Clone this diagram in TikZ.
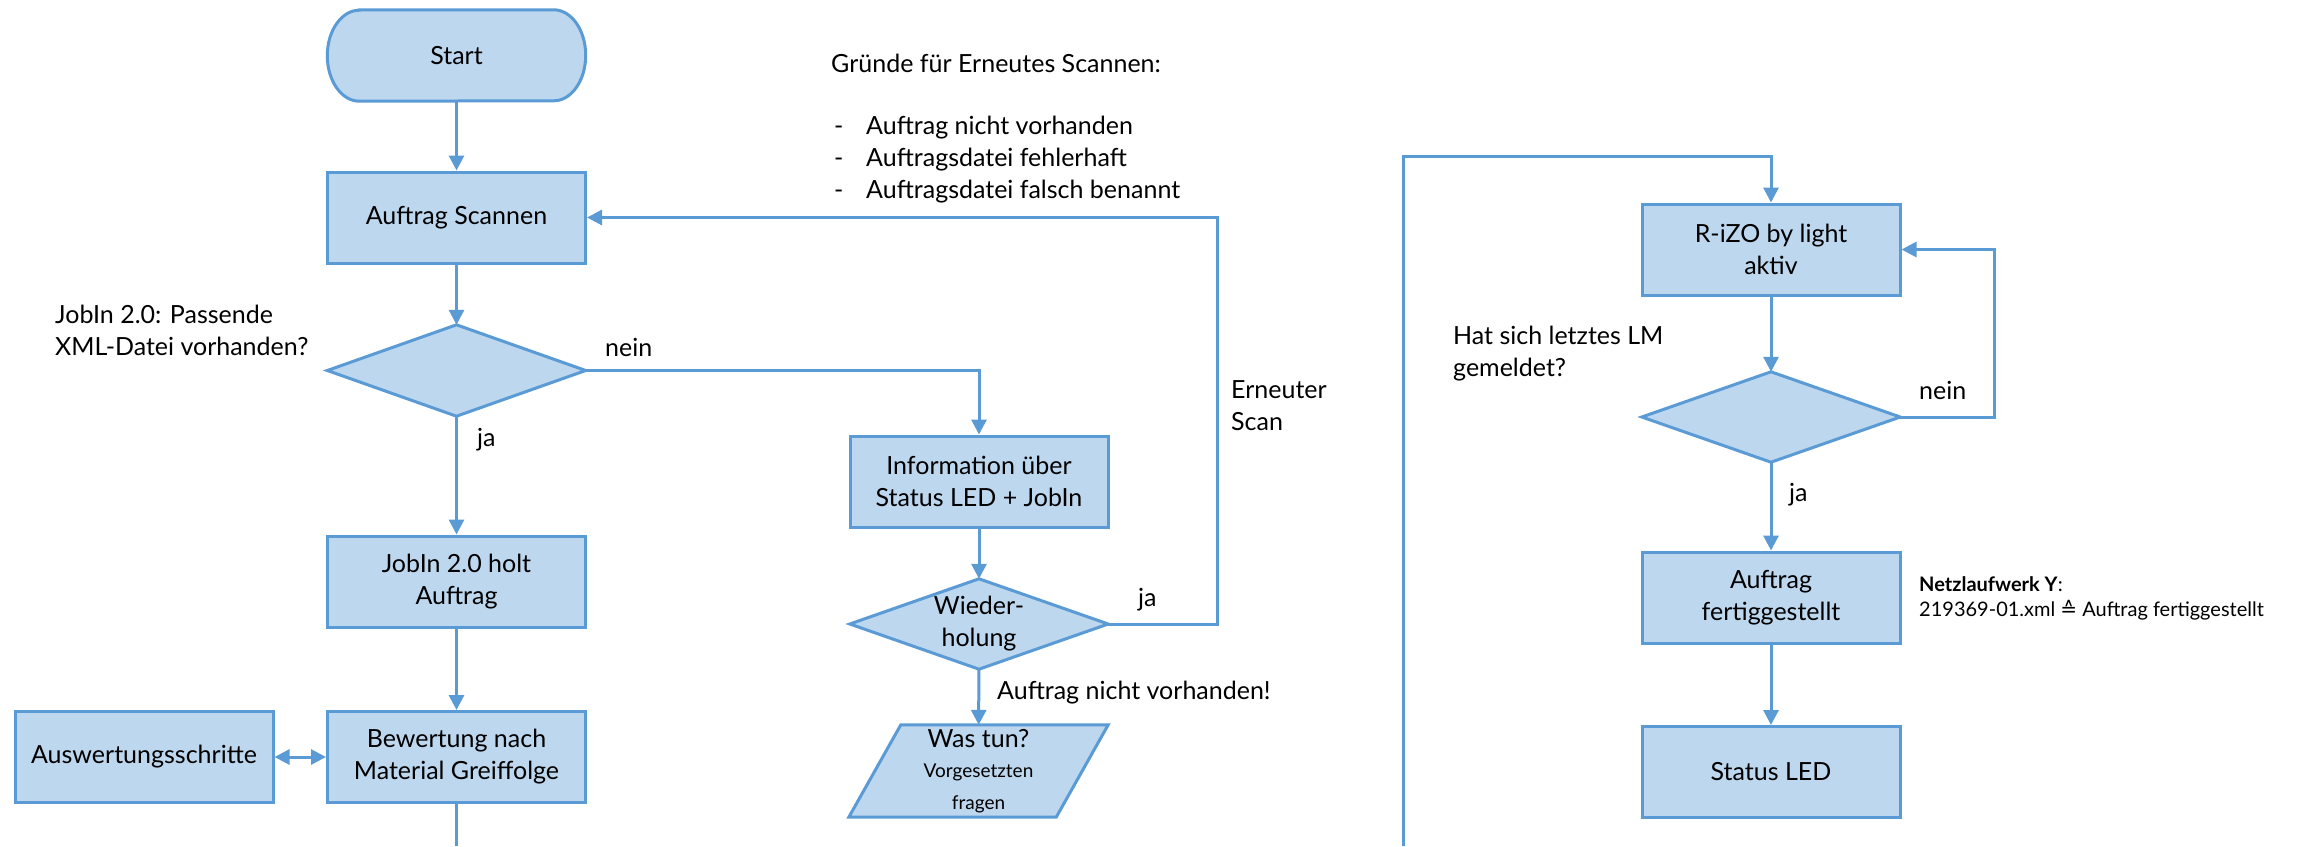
\documentclass[tikz,border=0pt]{standalone}
\usepackage{fontspec}
\setmainfont{Lato}
\newfontfamily\dejavu{DejaVu Sans}
\usetikzlibrary{arrows.meta,backgrounds,calc}
\definecolor{lineblue}{HTML}{5B9BD5}
\definecolor{fillblue}{HTML}{BDD7EE}
\newcommand{\smallfs}{\fontsize{19}{27}\selectfont}
\begin{document}
\begin{tikzpicture}[x=1pt,y=-1pt,
  every node/.style={font=\fontsize{25}{32}\selectfont, text=black},
  conn/.style={draw=lineblue, line width=3pt, -{Triangle[length=15pt,width=15pt]}},
  plain/.style={draw=lineblue, line width=3pt},
  box/.style={rectangle, draw=lineblue, fill=fillblue, line width=3pt, minimum width=258pt, minimum height=91pt, inner sep=0pt, align=center},
  ghost/.style={rectangle, minimum width=258pt, minimum height=91pt, inner sep=0pt, align=center},
  shp/.style={draw=lineblue, fill=fillblue, line width=3pt, line join=miter},
  lbl/.style={anchor=west, inner sep=0pt, align=left}
]
\useasboundingbox (0,0) rectangle (2297,846);

% nodes
\node[ghost] (start) at (456.5,55.5) {Start};
\node[box] (scan) at (456.5,217.5) {Auftrag Scannen};
\node[ghost] (d1) at (456.5,370.5) {};
\node[box] (jobin) at (456.5,581.5) {JobIn 2.0 holt\\Auftrag};
\node[box] (bew) at (456.5,757) {Bewertung nach\\Material Greiffolge};
\node[box] (ausw) at (144,757) {Auswertungsschritte};
\node[box] (info) at (979,481.5) {Information über\\Status LED + JobIn};
\node[ghost,minimum height=90pt] (d2) at (979,624) {Wieder-\\holung};
\node[ghost,minimum width=259pt,minimum height=92pt] (para) at (978.5,771)
  {Was tun?\\[-2pt]\smallfs Vorgesetzten\\\smallfs fragen};
\node[box] (rizo) at (1771,249.5) {R-iZO by light\\aktiv};
\node[ghost,minimum height=90pt] (d3) at (1771,417) {};
\node[box] (fert) at (1771,597.5) {Auftrag\\fertiggestellt};
\node[box] (led) at (1771,772) {Status LED};

% shapes drawn behind the ghost nodes
\begin{scope}[on background layer]
\path[shp] ([xshift=32pt]start.north west) -- ([xshift=-32pt]start.north east)
  arc[start angle=90, end angle=-90, x radius=32pt, y radius=45.5pt]
  -- ([xshift=32pt]start.south west)
  arc[start angle=270, end angle=90, x radius=32pt, y radius=45.5pt] -- cycle;
\path[shp] (d1.north) -- (d1.east) -- (d1.south) -- (d1.west) -- cycle;
\path[shp] (d2.north) -- (d2.east) -- (d2.south) -- (d2.west) -- cycle;
\path[shp] (d3.north) -- (d3.east) -- (d3.south) -- (d3.west) -- cycle;
\path[shp] ([xshift=52pt]para.north west) -- (para.north east)
  -- ([xshift=-52pt]para.south east) -- (para.south west) -- cycle;
\end{scope}

% connectors
\draw[conn] (start) -- (scan);
\draw[conn] (scan) -- (d1);
\draw[conn] (d1) -- (jobin);
\draw[conn] (jobin) -- (bew);
\draw[plain, {Triangle[length=15pt,width=15pt]}-{Triangle[length=15pt,width=15pt]}] (ausw) -- (bew);
\coordinate (bewend) at (456.5,846);
\draw[plain] (bew) -- (bewend);
\draw[conn] (d1.east) -| (info.north);
\draw[conn] (info) -- (d2);
\draw[conn] (d2) -- (para);
\coordinate (rescan) at (1217,624);
\draw[conn] (d2.east) -- (rescan) |- (scan.east);
\coordinate (loopstart) at (1403,846);
\coordinate (looptop) at (1403,156);
\draw[conn] (loopstart) -- (looptop) -| (rizo.north);
\draw[conn] (rizo) -- (d3);
\coordinate (nein3) at (1994,417);
\draw[conn] (d3.east) -- (nein3) |- (rizo.east);
\draw[conn] (d3) -- (fert);
\draw[conn] (fert) -- (led);

% labels
\node[lbl] (ja1) at (477,440) {ja};
\node[lbl] (nein1) at (605,347) {nein};
\node[lbl] (jobq) at (55,330) {JobIn 2.0: Passende\\XML-Datei vorhanden?};
\node[lbl] (grund) at (831,63) {Gründe für Erneutes Scannen:};
\node[lbl] (gruende) at (834,160) {\makebox[32pt][l]{-}Auftrag nicht vorhanden\\\makebox[32pt][l]{-}Auftragsdatei fehlerhaft\\\makebox[32pt][l]{-}Auftragsdatei falsch benannt};
\node[lbl] (erneut) at (1231,406) {Erneuter\\Scan};
\node[lbl] (ja2) at (1138,600) {ja};
\node[lbl] (nv) at (997,693) {Auftrag nicht vorhanden!};
\node[lbl] (hat) at (1453,354) {Hat sich letztes LM\\gemeldet?};
\node[lbl] (nein3l) at (1919,390) {nein};
\node[lbl] (ja3) at (1789,495) {ja};
\node[lbl, font=\fontsize{20}{25}\selectfont] (netz) at (1919,598.5)
  {\textbf{Netzlaufwerk Y}:\\219369-01.xml {\dejavu ≙} Auftrag fertiggestellt};
\end{tikzpicture}
\end{document}
